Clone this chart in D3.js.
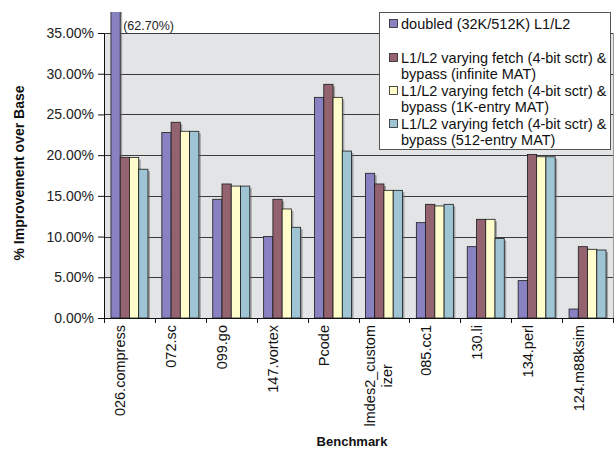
<!DOCTYPE html>
<html>
<head>
<meta charset="utf-8">
<script src="https://cdn.jsdelivr.net/npm/d3@7/dist/d3.min.js"></script>
<style>
  html, body { margin: 0; padding: 0; background: #fff; }
  svg { display: block; font-family: "Liberation Sans", Arial, sans-serif; }
</style>
</head>
<body>
<svg id="chart" width="616" height="451"></svg>
<script>
// Benchmarks on the x axis (multi-line names split into lines)
const categories = [
  ["026.compress"], ["072.sc"], ["099.go"], ["147.vortex"], ["Pcode"],
  ["lmdes2_custom", "izer"], ["085.cc1"], ["130.li"], ["134.perl"], ["124.m88ksim"]
];

// Legend text, one entry per series (lines as drawn)
const seriesNames = [
  ["doubled (32K/512K) L1/L2"],
  ["L1/L2 varying fetch (4-bit sctr) &", "bypass (infinite MAT)"],
  ["L1/L2 varying fetch (4-bit sctr) &", "bypass (1K-entry MAT)"],
  ["L1/L2 varying fetch (4-bit sctr) &", "bypass (512-entry MAT)"]
];

// % improvement over base, one array per series
const doubledL1L2   = [62.70, 22.77, 14.58, 10.00, 27.10, 17.77, 11.71, 8.76, 4.59, 1.10];
const bypassInfMAT  = [19.74, 24.04, 16.46, 14.58, 28.70, 16.46, 13.96, 12.12, 20.07, 8.76];
const bypass1KMAT   = [19.70, 22.93, 16.20, 13.39, 27.10, 15.68, 13.76, 12.12, 19.80, 8.44];
const bypass512MAT  = [18.27, 22.93, 16.20, 11.14, 20.50, 15.68, 13.96, 9.75, 19.80, 8.35];
const seriesValues = [doubledL1L2, bypassInfMAT, bypass1KMAT, bypass512MAT];

// Y axis ticks
const yTicks = [0, 5, 10, 15, 20, 25, 30, 35];

const colors = ["#8882c2", "#936470", "#fffdcc", "#9fc5d5"];

const svg = d3.select("#chart");
const plotL = 104, plotR = 613, plotT = 33, plotB = 318;

const x = d3.scaleBand().domain(d3.range(categories.length)).range([plotL, plotR]);
const xs = d3.scaleBand().domain(d3.range(seriesValues.length))
  .range([0, x.bandwidth()]).paddingOuter(0.75);
const y = d3.scaleLinear().domain([0, 35]).range([plotB, plotT]);

// plot area
svg.append("rect").attr("x", plotL).attr("y", plotT)
  .attr("width", plotR - plotL).attr("height", plotB - plotT)
  .attr("fill", "#e3e4e6");
svg.append("line").attr("x1", plotR + 0.5).attr("x2", plotR + 0.5)
  .attr("y1", plotT).attr("y2", plotB).attr("stroke", "#9a9a9a");

// gridlines
svg.append("g").selectAll("line").data(yTicks.filter(d => d > 0)).join("line")
  .attr("x1", plotL).attr("x2", plotR)
  .attr("y1", d => Math.round(y(d)) + 0.5).attr("y2", d => Math.round(y(d)) + 0.5)
  .attr("stroke", "#3a3a3a").attr("stroke-width", 1);

// bars (the off-scale bar runs up past the top of the plot)
svg.append("clipPath").attr("id", "barclip")
  .append("rect").attr("x", 0).attr("y", 12).attr("width", 616).attr("height", plotB - 12);

const flat = [];
seriesValues.forEach((vals, s) => vals.forEach((v, i) => flat.push({ s, i, v })));

const bars = svg.append("g").attr("clip-path", "url(#barclip)");
bars.selectAll("rect.shadow").data(flat).join("rect").attr("class", "shadow")
  .attr("x", d => x(d.i) + xs(d.s) + 2)
  .attr("y", d => y(d.v) + 2)
  .attr("width", xs.bandwidth())
  .attr("height", d => plotB - y(d.v) - 2)
  .attr("fill", "#6e6e6e").attr("opacity", 0.55);
bars.selectAll("rect.bar").data(flat).join("rect").attr("class", "bar")
  .attr("x", d => x(d.i) + xs(d.s))
  .attr("y", d => y(d.v))
  .attr("width", xs.bandwidth())
  .attr("height", d => plotB - y(d.v))
  .attr("fill", d => colors[d.s])
  .attr("stroke", "#1a1a1a").attr("stroke-width", 0.8);

// value note for the off-scale bar
svg.append("text").attr("x", x(0) + xs(0) + xs.bandwidth() + 3).attr("y", 30)
  .attr("font-size", 12.5).attr("fill", "#222")
  .text("(" + doubledL1L2[0].toFixed(2) + "%)");

// y axis
const yAxis = svg.append("g").attr("transform", `translate(${plotL},0)`)
  .call(d3.axisLeft(y).tickValues(yTicks).tickSizeOuter(0).tickSizeInner(6).tickPadding(4)
    .tickFormat(d => d.toFixed(2) + "%"));
yAxis.selectAll("text").attr("font-size", 14).attr("fill", "#222")
  .attr("font-family", "Liberation Sans, Arial, sans-serif");
yAxis.selectAll("line, path").attr("stroke", "#111");

// x axis
svg.append("line").attr("x1", plotL).attr("x2", plotR)
  .attr("y1", plotB + 0.5).attr("y2", plotB + 0.5).attr("stroke", "#111");
svg.append("g").selectAll("line").data(d3.range(categories.length + 1)).join("line")
  .attr("x1", i => Math.round(plotL + i * x.step()) + 0.5)
  .attr("x2", i => Math.round(plotL + i * x.step()) + 0.5)
  .attr("y1", plotB).attr("y2", plotB + 5).attr("stroke", "#111");

const xl = svg.append("g").selectAll("g").data(categories).join("g")
  .attr("transform", (d, i) => `translate(${x(i) + x.bandwidth() / 2 - 4},325) rotate(-90)`);
xl.each(function (lines) {
  const g = d3.select(this);
  const t0 = g.append("text").attr("font-size", 14.5).attr("fill", "#111")
    .attr("text-anchor", "end").attr("x", 0).attr("y", 0).text(lines[0]);
  if (lines.length > 1) {
    const len = t0.node().getComputedTextLength();
    t0.attr("text-anchor", "middle").attr("x", -len / 2).attr("y", -5);
    lines.slice(1).forEach((ln, k) => {
      g.append("text").attr("font-size", 14.5).attr("fill", "#111")
        .attr("text-anchor", "middle").attr("x", -len / 2).attr("y", -5 + 17 * (k + 1)).text(ln);
    });
  }
});

// axis titles
svg.append("text").attr("transform", "translate(24,173) rotate(-90)")
  .attr("text-anchor", "middle").attr("font-size", 14).attr("font-weight", "bold")
  .attr("fill", "#111").text("% Improvement over Base");
svg.append("text").attr("x", 352).attr("y", 446)
  .attr("text-anchor", "middle").attr("font-size", 13).attr("font-weight", "bold")
  .attr("fill", "#111").text("Benchmark");

// legend
const lg = svg.append("g");
lg.append("rect").attr("x", 379.5).attr("y", 12.5).attr("width", 231).attr("height", 137)
  .attr("fill", "#fff").attr("stroke", "#555");
const entryY = [29, 63, 96, 129];
seriesNames.forEach((lines, s) => {
  lg.append("rect").attr("x", 389.5).attr("y", entryY[s] - 9.5).attr("width", 8).attr("height", 8)
    .attr("fill", colors[s]).attr("stroke", "#222").attr("stroke-width", 0.8);
  lines.forEach((ln, k) => {
    lg.append("text").attr("x", 401).attr("y", entryY[s] + 16 * k)
      .attr("font-size", 14.5).attr("fill", "#111").text(ln);
  });
});
</script>
</body>
</html>
